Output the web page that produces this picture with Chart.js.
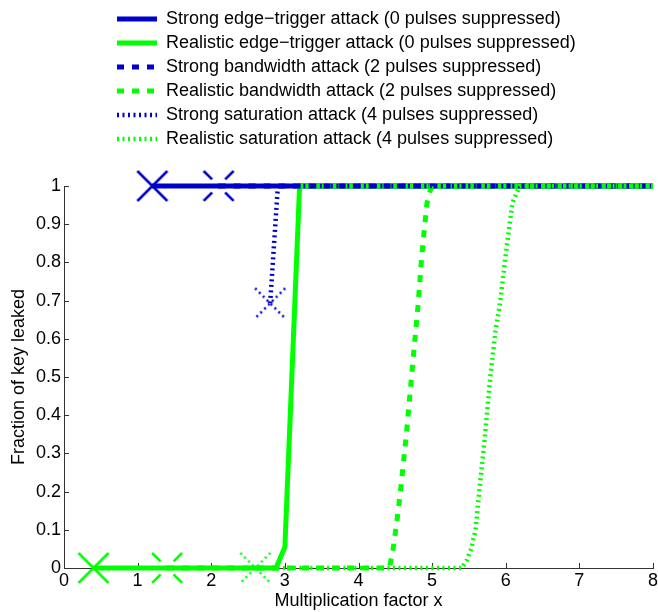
<!DOCTYPE html>
<html>
<head>
<meta charset="utf-8">
<script src="https://cdn.jsdelivr.net/npm/chart.js@4"></script>
<style>
html,body{margin:0;padding:0;background:#fff}
#wrap{width:658px;height:612px}
</style>
</head>
<body>
<div id="wrap"><canvas id="c" width="658" height="612"></canvas></div>
<script>
// ---- data ----
const seriesLabels = [
  'Strong edge\u2212trigger attack (0 pulses suppressed)',
  'Realistic edge\u2212trigger attack (0 pulses suppressed)',
  'Strong bandwidth attack (2 pulses suppressed)',
  'Realistic bandwidth attack (2 pulses suppressed)',
  'Strong saturation attack (4 pulses suppressed)',
  'Realistic saturation attack (4 pulses suppressed)'
];
const edgeStrongX = [1.20, 8];
const edgeStrongY = [1, 1];
const edgeRealX = [0.40, 2.88, 3.00, 3.20, 8];
const edgeRealY = [0, 0, 0.055, 1, 1];
const bandStrongX = [2.10, 8];
const bandStrongY = [1, 1];
const bandRealX = [1.40, 4.42, 4.47, 4.52, 4.57, 4.65, 4.72, 4.81, 4.86, 4.93, 4.99, 8];
const bandRealY = [0, 0, 0.05, 0.12, 0.2, 0.35, 0.5, 0.69, 0.82, 0.955, 1, 1];
const satStrongX = [2.80, 2.905, 8];
const satStrongY = [0.693, 1, 1];
const satRealX = [2.60, 5.40, 5.47, 5.53, 5.59, 5.64, 5.72, 5.79, 5.86, 5.92, 6.00, 6.09, 6.19, 8];
const satRealY = [0, 0, 0.02, 0.05, 0.1, 0.2, 0.35, 0.5, 0.62, 0.69, 0.82, 0.955, 1, 1];
const xTicks = [0, 1, 2, 3, 4, 5, 6, 7, 8];
const yTicks = [0, 0.1, 0.2, 0.3, 0.4, 0.5, 0.6, 0.7, 0.8, 0.9, 1];
const xTitle = 'Multiplication factor x';
const yTitle = 'Fraction of key leaked';

// ---- styles ----
const BLUE = '#0000cc';
const GREEN = '#00ff00';
const FONT = 'Liberation Sans, Arial, Helvetica, sans-serif';
const FS = 18;
const SOLID = [];
const DASH = [7, 8];
const DOT = [2, 3.5];

function makeX(color, dash) {
  const c = document.createElement('canvas');
  c.width = 34; c.height = 34;
  const g = c.getContext('2d');
  g.strokeStyle = color;
  g.lineWidth = 2.5;
  g.setLineDash(dash);
  g.beginPath(); g.moveTo(2, 2); g.lineTo(32, 32); g.stroke();
  g.beginPath(); g.moveTo(32, 2); g.lineTo(2, 32); g.stroke();
  return c;
}
const markerDash = [12, 7, 4.4, 7, 12, 50];
const markerDot = [2, 3.5];

function pts(xs, ys) { return xs.map((x, i) => ({x: x, y: ys[i]})); }

const specs = [
  {xs: edgeStrongX, ys: edgeStrongY, color: BLUE, dash: SOLID, w: 5, m: makeX(BLUE, [])},
  {xs: edgeRealX, ys: edgeRealY, color: GREEN, dash: SOLID, w: 5, m: makeX(GREEN, [])},
  {xs: bandStrongX, ys: bandStrongY, color: BLUE, dash: DASH, w: 5, m: makeX(BLUE, markerDash)},
  {xs: bandRealX, ys: bandRealY, color: GREEN, dash: DASH, w: 5, m: makeX(GREEN, markerDash)},
  {xs: satStrongX, ys: satStrongY, color: BLUE, dash: DOT, w: 4.5, m: makeX(BLUE, markerDot)},
  {xs: satRealX, ys: satRealY, color: GREEN, dash: DOT, w: 4.5, m: makeX(GREEN, markerDot)}
];

const datasets = specs.map((s, i) => ({
  label: seriesLabels[i],
  data: pts(s.xs, s.ys),
  borderColor: s.color,
  backgroundColor: s.color,
  borderWidth: s.w,
  borderDash: s.dash,
  borderCapStyle: 'butt',
  tension: 0,
  fill: false,
  clip: false,
  order: specs.length - i,
  pointStyle: s.m,
  pointRadius: (ctx) => ctx.dataIndex === 0 ? 15 : 0,
  pointHoverRadius: (ctx) => ctx.dataIndex === 0 ? 15 : 0,
  pointBorderWidth: 0
}));

const inTicks = {
  id: 'inTicks',
  beforeDatasetsDraw(chart) {
    const {ctx, chartArea: a, scales: {x, y}} = chart;
    ctx.save();
    ctx.strokeStyle = '#333';
    ctx.lineWidth = 1;
    ctx.beginPath();
    xTicks.forEach(v => {
      const px = Math.round(x.getPixelForValue(v)) + 0.5;
      ctx.moveTo(px, a.bottom); ctx.lineTo(px, a.bottom - 5);
    });
    yTicks.forEach(v => {
      const py = Math.round(y.getPixelForValue(v)) + 0.5;
      ctx.moveTo(a.left, py); ctx.lineTo(a.left + 5, py);
    });
    ctx.stroke();
    ctx.restore();
  }
};

const legendPos = {
  id: 'legendPos',
  afterLayout(chart) {
    const L = chart.legend;
    if (!L) return;
    const dx = 111 - L.left, dy = 4 - L.top;
    L.left += dx; L.right += dx; L.top += dy; L.bottom += dy;
  }
};

new Chart(document.getElementById('c'), {
  type: 'line',
  data: {datasets: datasets},
  plugins: [inTicks, legendPos],
  options: {
    responsive: false,
    animation: false,
    layout: {autoPadding: false, padding: {top: 32, right: 0, left: 0, bottom: 0}},
    plugins: {
      tooltip: {enabled: false},
      legend: {
        position: 'top',
        align: 'start',
        labels: {
          usePointStyle: true,
          pointStyleWidth: 40,
          boxHeight: 16,
          padding: 6,
          color: '#000',
          font: {family: FONT, size: FS},
          generateLabels: (chart) => chart.data.datasets.map((ds, i) => ({
            text: ds.label,
            fillStyle: ds.borderColor,
            strokeStyle: ds.borderColor,
            lineWidth: ds.borderWidth,
            lineDash: ds.borderDash,
            lineCap: 'butt',
            pointStyle: 'line',
            fontColor: '#000',
            hidden: false,
            datasetIndex: i
          }))
        }
      }
    },
    scales: {
      x: {
        type: 'linear',
        min: 0, max: 8,
        afterBuildTicks: (s) => { s.ticks = xTicks.map(v => ({value: v})); },
        afterFit: (s) => { s.height = 44; s.paddingRight = 5; s.paddingLeft = 0; },
        ticks: {color: '#000', font: {family: FONT, size: FS}, padding: 2, maxRotation: 0, autoSkip: false, callback: (v) => String(v)},
        grid: {display: false, drawTicks: false},
        border: {display: true, color: '#333', width: 1},
        title: {display: true, text: xTitle, color: '#000', font: {family: FONT, size: FS}, padding: {top: 0, bottom: 0}}
      },
      y: {
        type: 'linear',
        min: 0, max: 1,
        afterBuildTicks: (s) => { s.ticks = yTicks.map(v => ({value: v})); },
        afterFit: (s) => { s.width = 64; },
        ticks: {color: '#000', font: {family: FONT, size: FS}, padding: 3, autoSkip: false, callback: (v) => String(v)},
        grid: {display: false, drawTicks: false},
        border: {display: true, color: '#333', width: 1},
        title: {display: true, text: yTitle, color: '#000', font: {family: FONT, size: FS}, padding: {top: 8, bottom: 4}}
      }
    }
  }
});
</script>
</body>
</html>
